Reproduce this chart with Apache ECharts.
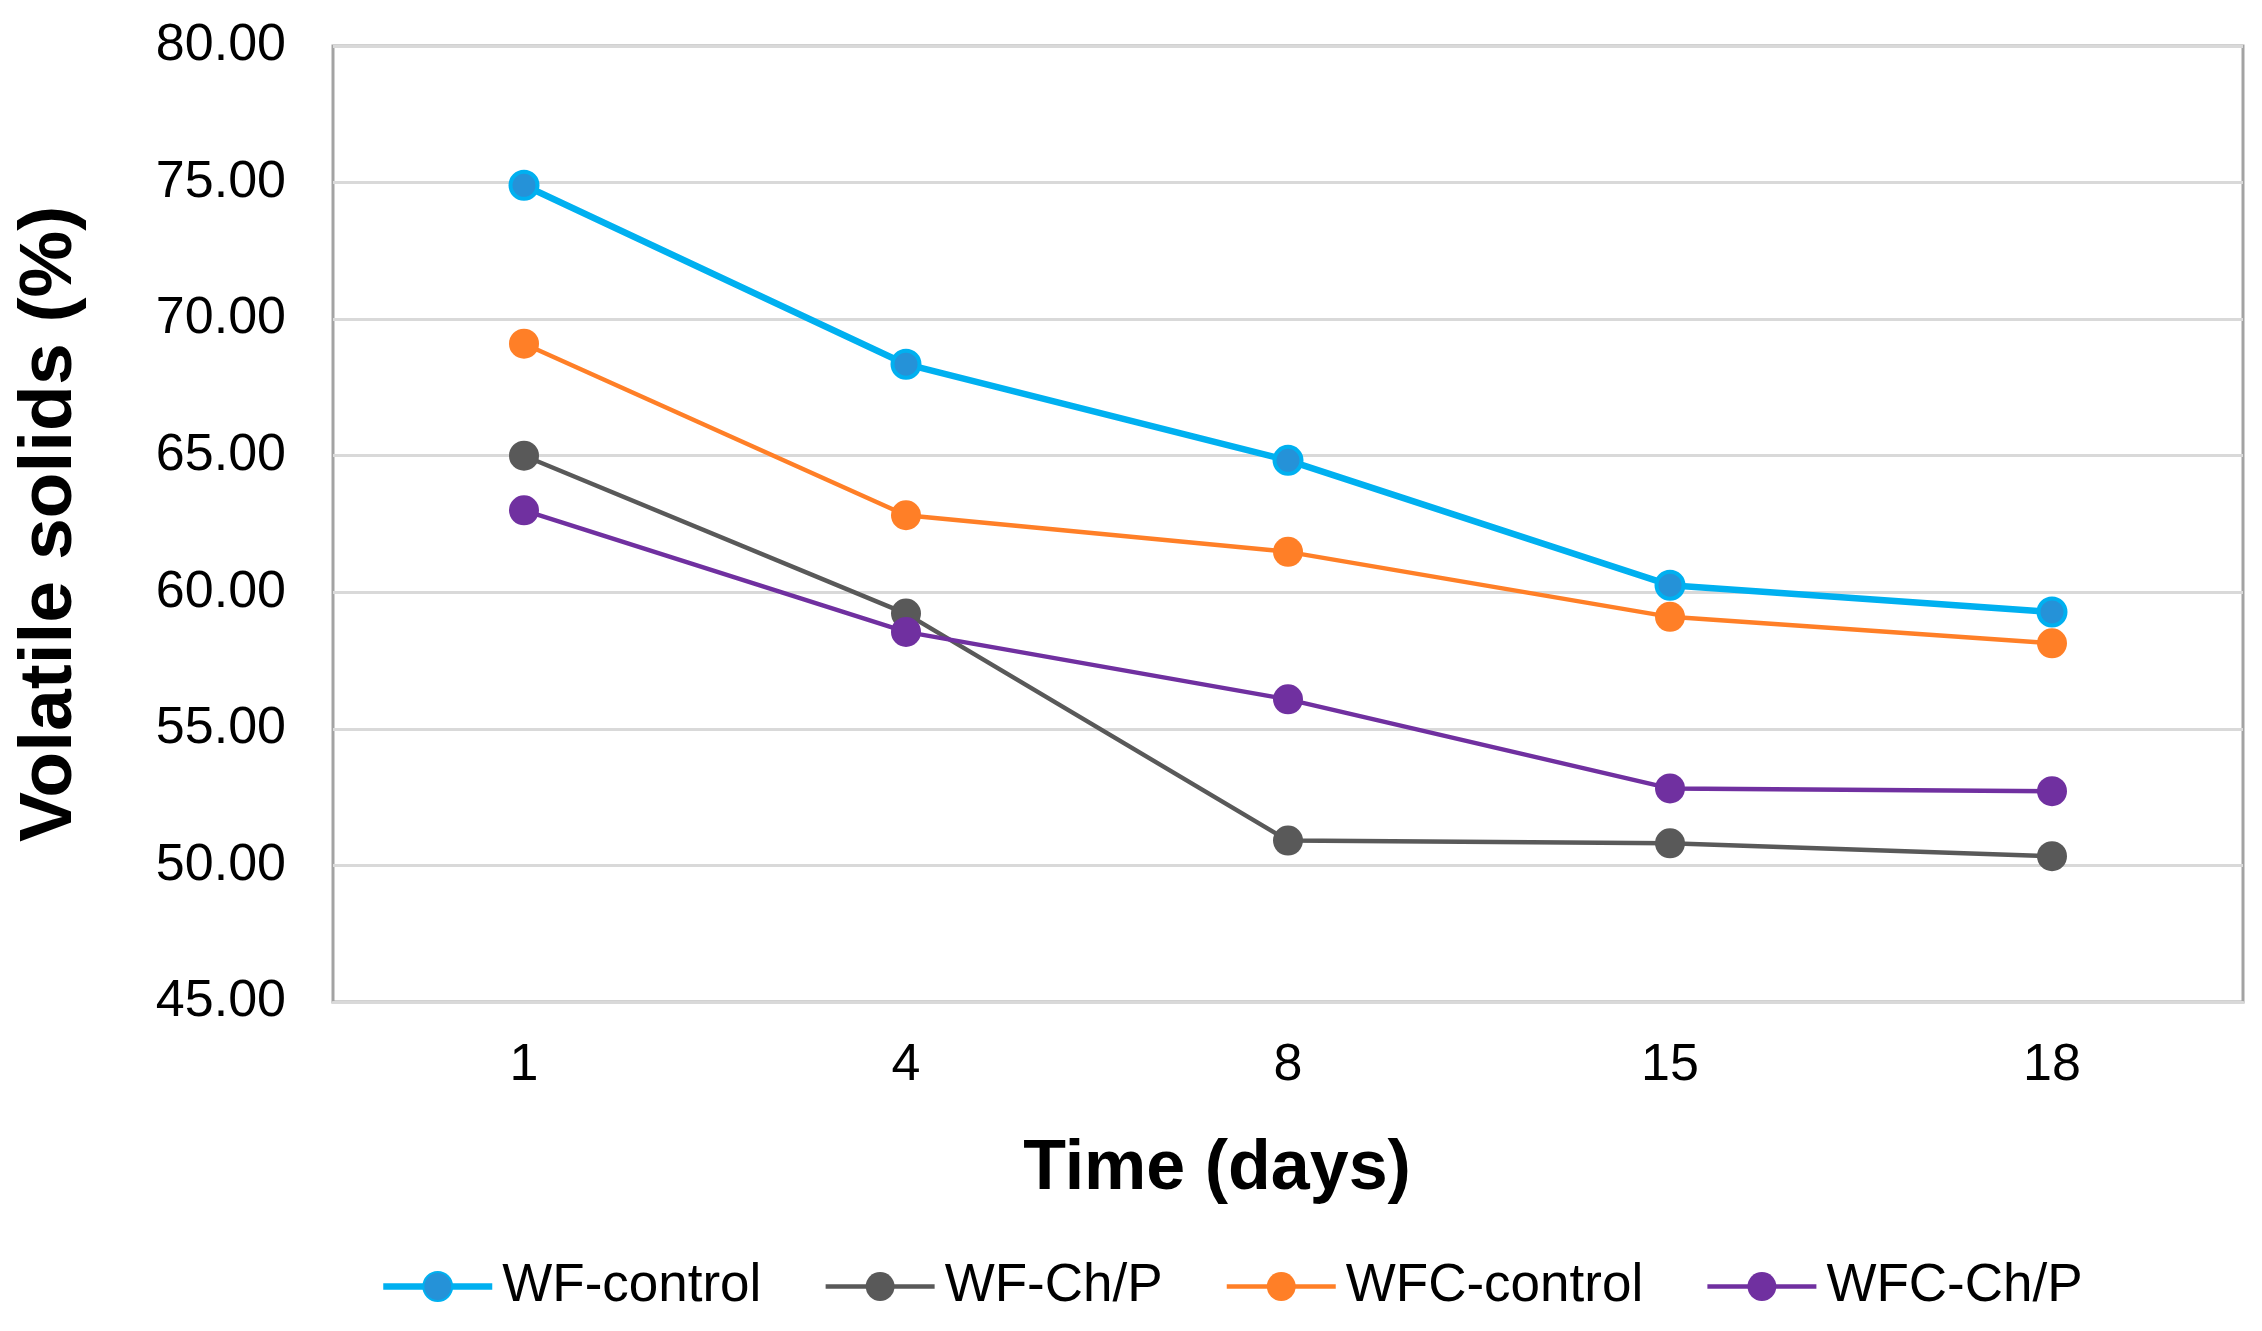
<!DOCTYPE html>
<html>
<head>
<meta charset="utf-8">
<script src="https://cdn.jsdelivr.net/npm/echarts@6/dist/echarts.min.js"></script>
<style>
html,body{margin:0;padding:0;background:#fff;}
#chart{width:2262px;height:1331px;}
</style>
</head>
<body>
<div id="chart"></div>
<script>
var days = ['1', '4', '8', '15', '18'];
var wfControl = [74.9, 68.35, 64.83, 60.26, 59.28];
var wfChP = [65.0, 59.22, 50.91, 50.81, 50.34];
var wfcControl = [69.1, 62.82, 61.48, 59.1, 58.13];
var wfcChP = [63.0, 58.55, 56.08, 52.82, 52.72];
var seriesNames = ['WF-control', 'WF-Ch/P', 'WFC-control', 'WFC-Ch/P'];
var yTicks = {min: 45, max: 80, step: 5};

var FONT = "'Liberation Sans', Arial, sans-serif";
var chart = echarts.init(document.getElementById('chart'));

function lineSeries(name, data, color, width, fill, border) {
  return {
    name: name,
    type: 'line',
    data: data,
    symbol: 'circle',
    symbolSize: border ? 27 : 30,
    lineStyle: {color: color, width: width},
    itemStyle: {color: fill || color, borderColor: border || color, borderWidth: border ? 4 : 0},
    emphasis: {disabled: true},
    z: 3
  };
}

var lineWidths = [6.5, 4.5, 4.5, 4.5];

chart.setOption({
  animation: false,
  backgroundColor: '#ffffff',
  textStyle: {fontFamily: FONT},
  grid: {left: 333, top: 46, right: 19, bottom: 329, show: true, borderColor: '#a3a3a3', borderWidth: 3, backgroundColor: 'transparent'},
  legend: {
    data: seriesNames.map(function (n, i) { return {name: n, lineStyle: {width: lineWidths[i]}}; }),
    left: 375,
    top: 1255,
    itemWidth: 109,
    itemHeight: 36,
    itemGap: 62,
    textStyle: {fontFamily: FONT, fontSize: 53, color: '#000', padding: [0, 0, 0, 5]}
  },
  xAxis: {
    type: 'category',
    data: days,
    boundaryGap: true,
    axisLine: {show: true, lineStyle: {color: '#d9d9d9', width: 3}},
    axisTick: {show: false},
    axisLabel: {fontFamily: FONT, fontSize: 52, color: '#000', margin: 38},
    name: 'Time (days)',
    nameLocation: 'middle',
    nameGap: 133,
    nameTextStyle: {fontFamily: FONT, fontSize: 70, fontWeight: 'bold', color: '#000', padding: [0, 142, 0, 0]}
  },
  yAxis: {
    type: 'value',
    min: yTicks.min,
    max: yTicks.max,
    interval: yTicks.step,
    axisLine: {show: false},
    axisTick: {show: false},
    splitLine: {show: true, lineStyle: {color: '#d9d9d9', width: 3}},
    axisLabel: {fontFamily: FONT, fontSize: 52, color: '#000', margin: 47, formatter: function (v) { return v.toFixed(2); }},
    name: 'Volatile solids (%)',
    nameLocation: 'middle',
    nameGap: 245,
    nameTextStyle: {fontFamily: FONT, fontSize: 75, fontWeight: 'bold', color: '#000'}
  },
  series: [
    lineSeries(seriesNames[0], wfControl, '#00b0f0', lineWidths[0], '#2592d8', '#00b0f0'),
    lineSeries(seriesNames[1], wfChP, '#595959', lineWidths[1]),
    lineSeries(seriesNames[2], wfcControl, '#ff7f27', lineWidths[2]),
    lineSeries(seriesNames[3], wfcChP, '#7030a0', lineWidths[3])
  ]
});
</script>
</body>
</html>
